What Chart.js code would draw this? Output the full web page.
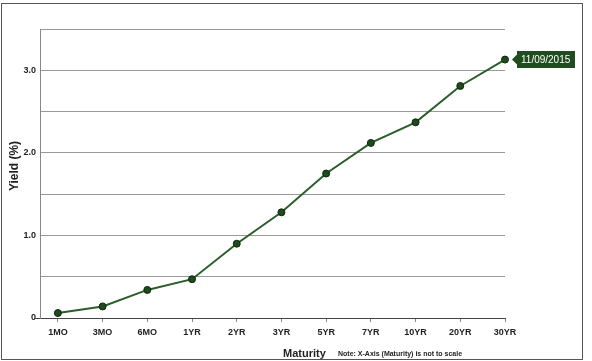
<!DOCTYPE html>
<html lang="en">
<head>
    <meta charset="UTF-8">
    <title>Yield Curve</title>
    <style>
        html, body { margin: 0; padding: 0; background: #fff; }
        #wrap { position: relative; width: 592px; height: 361px; }
    </style>
</head>
<body>

<div id="wrap">
    <canvas id="yieldChart" width="592" height="361"></canvas>
</div>

<script src="https://cdn.jsdelivr.net/npm/chart.js"></script>
<script>
    // Dados
    const maturities = ['1MO', '3MO', '6MO', '1YR', '2YR', '3YR', '5YR', '7YR', '10YR', '20YR', '30YR'];
    const yields = [0.06, 0.14, 0.34, 0.47, 0.90, 1.28, 1.75, 2.12, 2.37, 2.81, 3.13];
    const yTicks = [0, 0.5, 1.0, 1.5, 2.0, 2.5, 3.0, 3.5];
    const seriesLabel = '11/09/2015';

    const FONT = "'Liberation Sans', Arial, sans-serif";

    // moldura, títulos e etiqueta da data
    const extras = {
        id: 'extras',
        afterDraw(chart) {
            const c = chart.ctx;
            c.save();
            c.strokeStyle = '#555';
            c.lineWidth = 1;
            c.strokeRect(1.5, 3.5, 581, 356);

            // pequeno traço à esquerda do zero
            c.strokeStyle = '#444';
            c.beginPath();
            c.moveTo(35, chart.chartArea.bottom + 0.5);
            c.lineTo(40, chart.chartArea.bottom + 0.5);
            c.stroke();

            c.fillStyle = '#222';
            c.font = 'bold 12px ' + FONT;
            c.textAlign = 'center';
            c.textBaseline = 'middle';
            c.save();
            c.translate(15, 166);
            c.rotate(-Math.PI / 2);
            c.fillText('Yield (%)', 0, 0);
            c.restore();

            c.textAlign = 'left';
            c.textBaseline = 'alphabetic';
            c.font = 'bold 11px ' + FONT;
            c.fillText('Maturity', 283, 357);
            c.font = 'bold 7px ' + FONT;
            c.fillText('Note: X-Axis (Maturity) is not to scale', 338, 356);

            // etiqueta junto ao último ponto
            const meta = chart.getDatasetMeta(0);
            const last = meta.data[meta.data.length - 1];
            const px = last.x + 7, py = last.y;
            c.fillStyle = '#1f4d1f';
            c.beginPath();
            c.moveTo(px, py);
            c.lineTo(px + 5, py - 5);
            c.lineTo(px + 5, py - 8.5);
            c.lineTo(px + 63, py - 8.5);
            c.lineTo(px + 63, py + 8.5);
            c.lineTo(px + 5, py + 8.5);
            c.lineTo(px + 5, py + 5);
            c.closePath();
            c.fill();
            c.fillStyle = '#fff';
            c.font = '10px ' + FONT;
            c.textBaseline = 'middle';
            c.fillText(seriesLabel, px + 9, py + 0.5);
            c.restore();
        }
    };

    const ctx = document.getElementById('yieldChart').getContext('2d');
    const chart = new Chart(ctx, {
        type: 'line',
        data: {
            datasets: [{
                label: seriesLabel,
                data: yields.map((v, i) => ({ x: i, y: v })),
                borderColor: '#2b5e2b',
                borderWidth: 2,
                pointRadius: 3.5,
                pointBackgroundColor: '#1e4a1e',
                pointBorderColor: '#0f260f',
                pointBorderWidth: 1,
                tension: 0,
                clip: false
            }]
        },
        options: {
            responsive: false,
            animation: false,
            layout: { padding: { left: 0, top: 29, right: 87, bottom: 0 } },
            plugins: {
                legend: { display: false },
                tooltip: { enabled: false }
            },
            scales: {
                x: {
                    type: 'linear',
                    min: -0.4,
                    max: maturities.length - 1,
                    afterBuildTicks: s => { s.ticks = maturities.map((m, i) => ({ value: i })); },
                    afterFit: s => { s.height = 43; },
                    grid: { drawOnChartArea: false, tickLength: 4, color: '#888' },
                    border: { color: '#444' },
                    ticks: {
                        autoSkip: false,
                        maxRotation: 0,
                        padding: 5,
                        color: '#222',
                        font: { family: FONT, size: 9, weight: 'bold' },
                        callback: v => maturities[v]
                    }
                },
                y: {
                    min: 0,
                    max: 3.5,
                    afterBuildTicks: s => { s.ticks = yTicks.map(v => ({ value: v })); },
                    afterFit: s => { s.width = 40; },
                    grid: { color: '#999', drawTicks: false },
                    border: { color: '#888' },
                    ticks: {
                        padding: 4,
                        color: '#222',
                        font: { family: FONT, size: 9, weight: 'bold' },
                        callback: v => v === 0 ? '0' : (Number.isInteger(v) ? v.toFixed(1) : '')
                    }
                }
            }
        },
        plugins: [extras]
    });
</script>

</body>
</html>
